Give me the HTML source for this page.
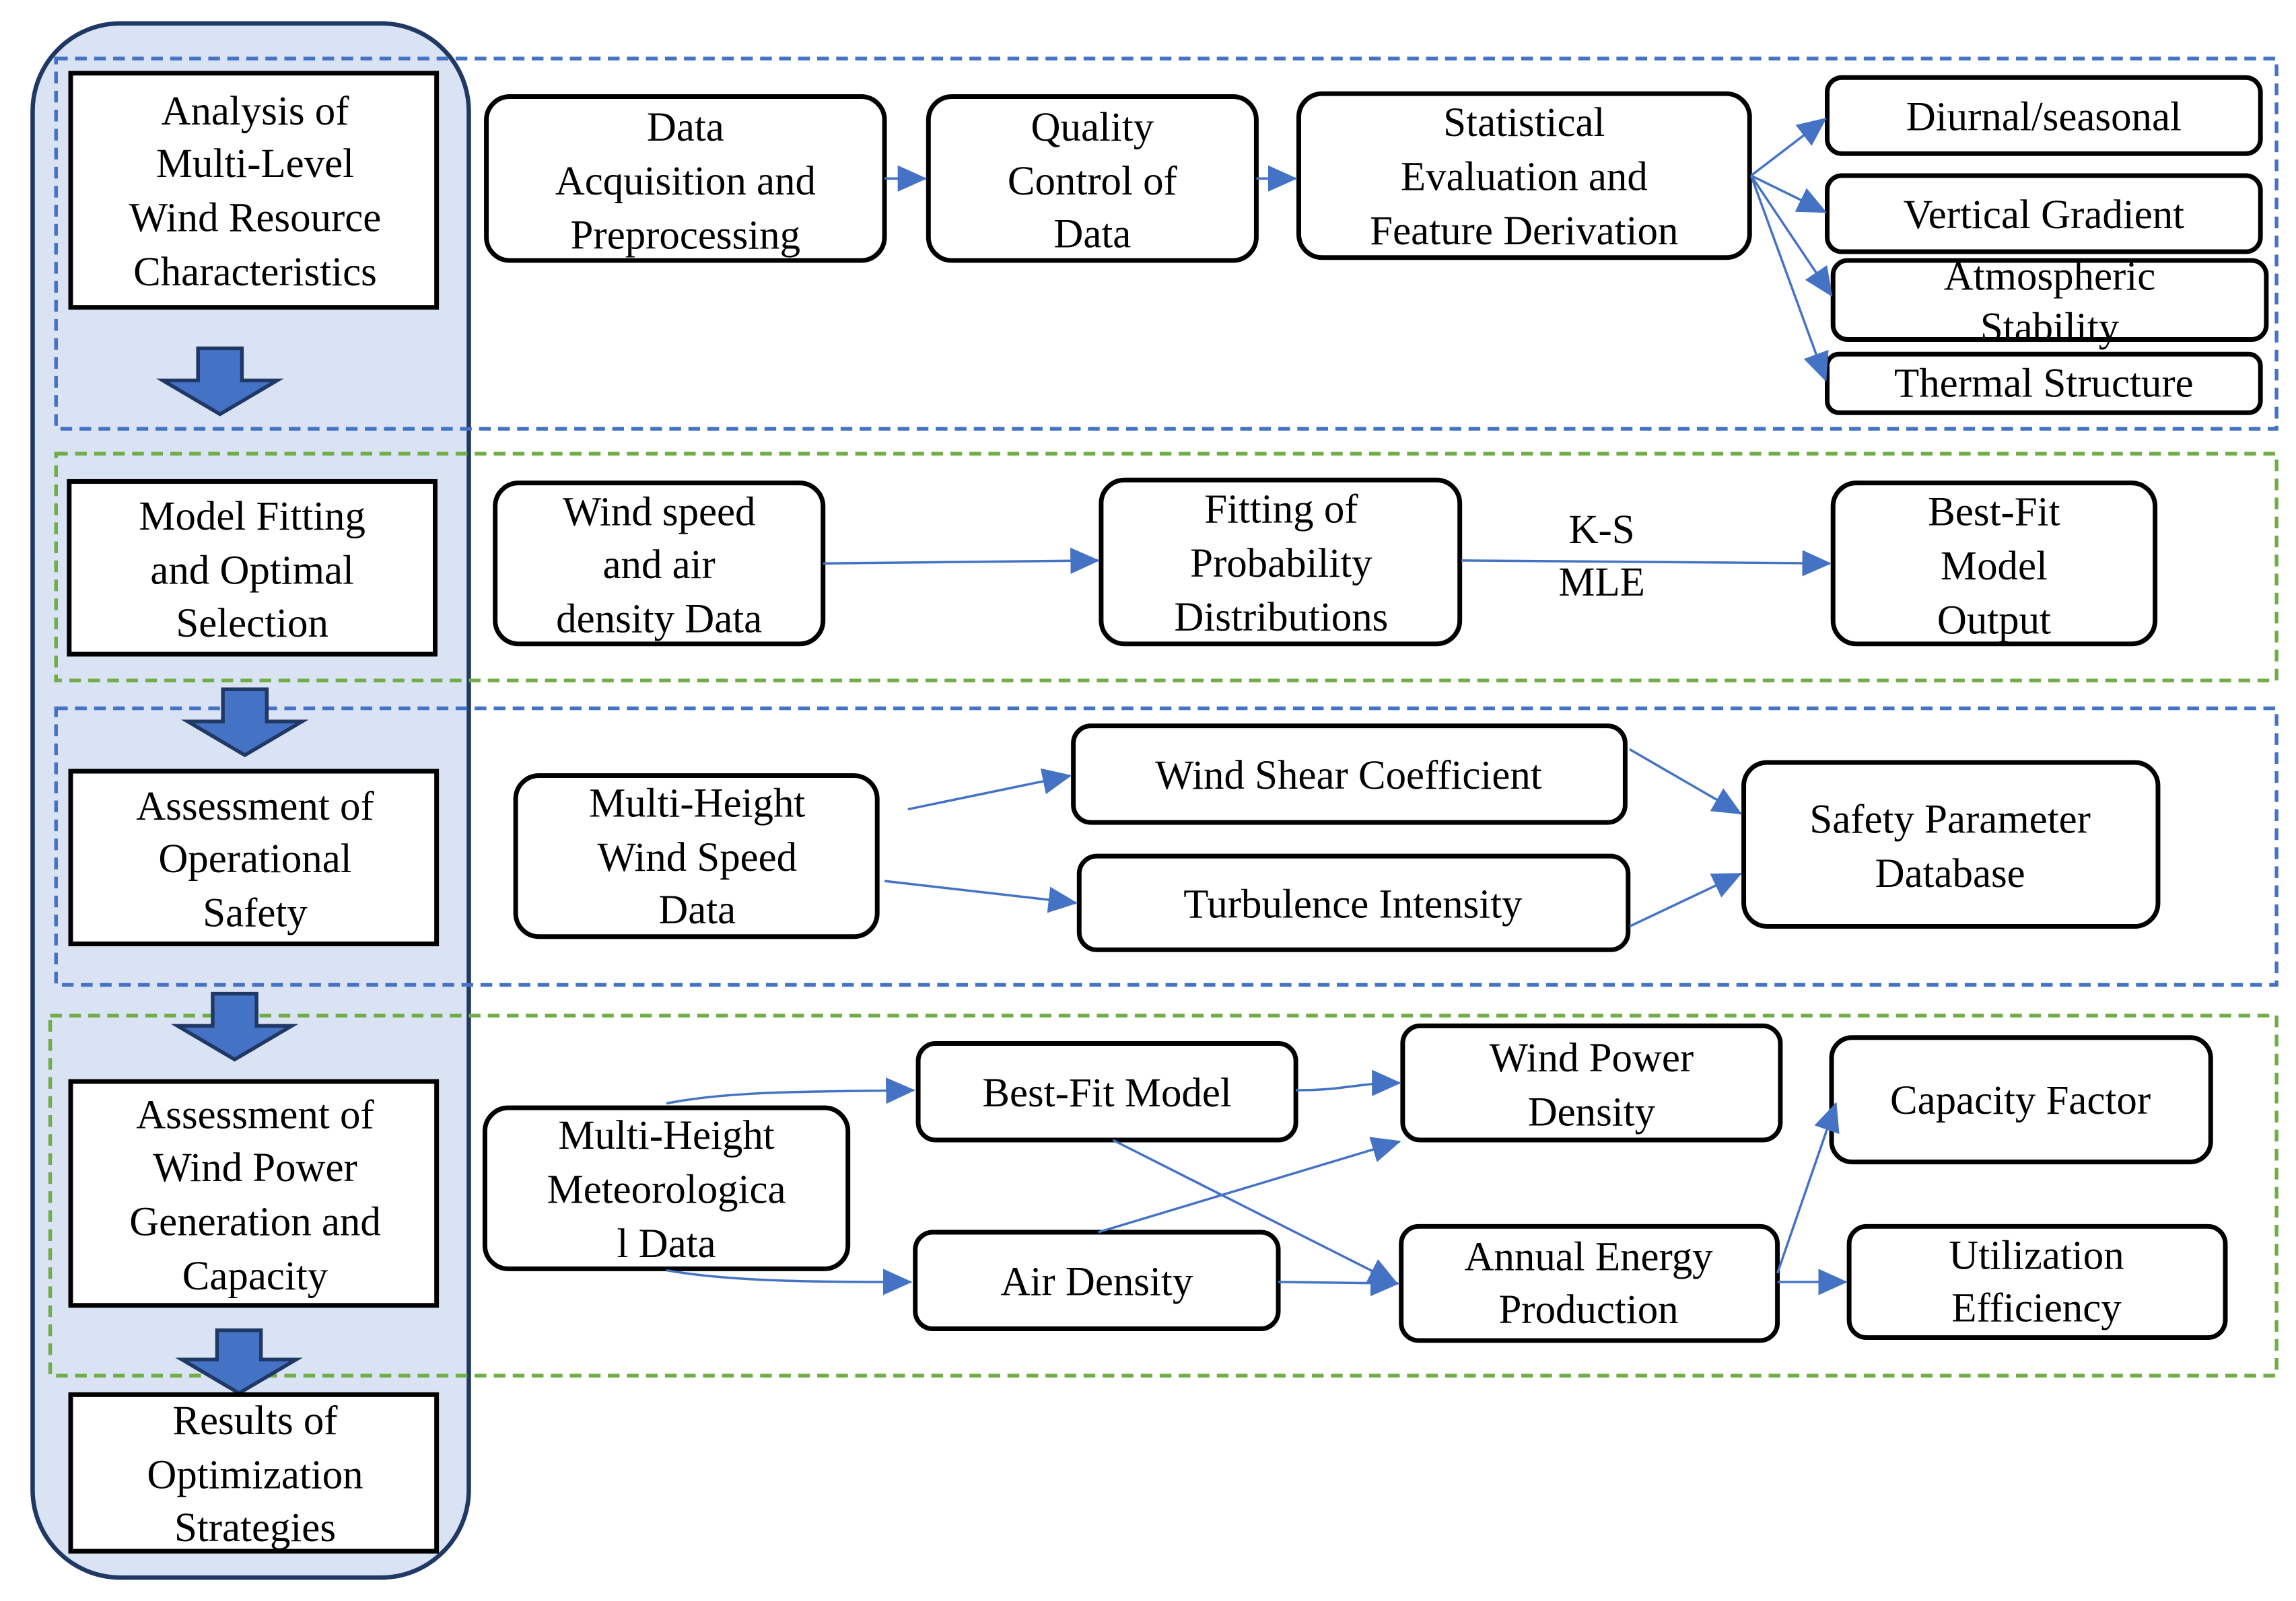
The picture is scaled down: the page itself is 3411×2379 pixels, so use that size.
<!DOCTYPE html>
<html><head><meta charset="utf-8"><style>
html,body{margin:0;padding:0;background:#fff;}
svg{display:block}
text{font-family:"Liberation Serif","Times New Roman",serif;font-size:28px;fill:#000;text-anchor:middle}
.b{fill:#fff;stroke:#000;stroke-width:3.2}
.c{stroke:#4472c4;stroke-width:1.6;fill:none}
</style></head><body>
<svg width="3411" height="2379" viewBox="0 0 1568 1094" xmlns="http://www.w3.org/2000/svg">
<defs>
<marker id="a" markerWidth="20" markerHeight="20" refX="19" refY="9" orient="auto" markerUnits="userSpaceOnUse" viewBox="0 0 20 18">
<path d="M0,0 L20,9 L0,18 z" fill="#4472c4"/></marker>
</defs>
<rect x="0" y="0" width="1568" height="1094" fill="#fff"/>
<rect x="22" y="16" width="298" height="1062" rx="60" fill="#dae3f3" stroke="#1f3864" stroke-width="3"/>
<g fill="none" stroke-width="2.5" stroke-dasharray="8,5">
<rect x="38" y="40" width="1517" height="253" stroke="#4472c4"/>
<rect x="38" y="310" width="1517" height="155" stroke="#70ad47"/>
<rect x="38" y="484" width="1517" height="189" stroke="#4472c4"/>
<rect x="34" y="694" width="1521" height="246" stroke="#70ad47"/>
</g>
<g fill="#4472c4" stroke="#1f3864" stroke-width="2.5">
<path d="M135,238 h30 v22 h24 l-39,23 l-39,-23 h24 z"/>
<path d="M152,471 h30 v22 h24 l-39,23 l-39,-23 h24 z"/>
<path d="M145,679 h30 v22 h24 l-39,23 l-39,-23 h24 z"/>
<path d="M148,909 h30 v20 h24 l-39,23 l-39,-23 h24 z"/>
</g>
<g transform="scale(1,1)">
<rect class="b" x="48" y="50" width="250" height="160"/>
<text x="174" y="85">Analysis of</text><text x="174" y="121">Multi-Level</text><text x="174" y="158">Wind Resource</text><text x="174" y="195">Characteristics</text>
<rect class="b" x="47" y="329" width="250" height="118"/>
<text x="172" y="362">Model Fitting</text><text x="172" y="399">and Optimal</text><text x="172" y="435">Selection</text>
<rect class="b" x="48" y="527" width="250" height="118"/>
<text x="174" y="560">Assessment of</text><text x="174" y="596">Operational</text><text x="174" y="633">Safety</text>
<rect class="b" x="48" y="739" width="250" height="153"/>
<text x="174" y="771">Assessment of</text><text x="174" y="807">Wind Power</text><text x="174" y="844">Generation and</text><text x="174" y="881">Capacity</text>
<rect class="b" x="48" y="953" width="250" height="107"/>
<text x="174" y="980">Results of</text><text x="174" y="1017">Optimization</text><text x="174" y="1053">Strategies</text>
</g>
<rect class="b" x="332" y="66" width="272" height="112" rx="16"/>
<text x="468" y="96">Data</text><text x="468" y="133">Acquisition and</text><text x="468" y="170">Preprocessing</text>
<rect class="b" x="634" y="66" width="224" height="112" rx="16"/>
<text x="746" y="96">Quality</text><text x="746" y="133">Control of</text><text x="746" y="169">Data</text>
<rect class="b" x="887" y="64" width="308" height="112" rx="16"/>
<text x="1041" y="93">Statistical</text><text x="1041" y="130">Evaluation and</text><text x="1041" y="167">Feature Derivation</text>
<rect class="b" x="1248" y="53" width="296" height="52" rx="10"/>
<text x="1396" y="89">Diurnal/seasonal</text>
<rect class="b" x="1248" y="120" width="296" height="52" rx="10"/>
<text x="1396" y="156">Vertical Gradient</text>
<rect class="b" x="1252" y="178" width="296" height="54" rx="10"/>
<text x="1400" y="198">Atmospheric</text><text x="1400" y="233">Stability</text>
<rect class="b" x="1248" y="242" width="296" height="40" rx="8"/>
<text x="1396" y="271">Thermal Structure</text>
<line class="c" x1="604" y1="122" x2="632" y2="122" marker-end="url(#a)"/>
<line class="c" x1="858" y1="122" x2="885" y2="122" marker-end="url(#a)"/>
<line class="c" x1="1196" y1="120" x2="1247" y2="81" marker-end="url(#a)"/>
<line class="c" x1="1196" y1="120" x2="1247" y2="145" marker-end="url(#a)"/>
<line class="c" x1="1196" y1="120" x2="1251" y2="202" marker-end="url(#a)"/>
<line class="c" x1="1196" y1="120" x2="1247" y2="260" marker-end="url(#a)"/>
<rect class="b" x="338" y="330" width="224" height="110" rx="16"/>
<text x="450" y="359">Wind speed</text><text x="450" y="395">and air</text><text x="450" y="432">density Data</text>
<rect class="b" x="752" y="328" width="245" height="112" rx="16"/>
<text x="875" y="357">Fitting of</text><text x="875" y="394">Probability</text><text x="875" y="431">Distributions</text>
<rect class="b" x="1252" y="330" width="220" height="110" rx="16"/>
<text x="1362" y="359">Best-Fit</text><text x="1362" y="396">Model</text><text x="1362" y="433">Output</text>
<line class="c" x1="562" y1="385" x2="750" y2="383" marker-end="url(#a)"/>
<line class="c" x1="998" y1="383" x2="1250" y2="385" marker-end="url(#a)"/>
<text x="1094" y="371">K-S</text><text x="1094" y="407">MLE</text>
<rect class="b" x="352" y="530" width="247" height="110" rx="16"/>
<text x="476" y="558">Multi-Height</text><text x="476" y="595">Wind Speed</text><text x="476" y="631">Data</text>
<rect class="b" x="733" y="496" width="377" height="66" rx="12"/>
<text x="921" y="539">Wind Shear Coefficient</text>
<rect class="b" x="737" y="585" width="375" height="64" rx="12"/>
<text x="924" y="627">Turbulence Intensity</text>
<rect class="b" x="1191" y="521" width="283" height="112" rx="16"/>
<text x="1332" y="569">Safety Parameter</text><text x="1332" y="606">Database</text>
<line class="c" x1="620" y1="553" x2="731" y2="530" marker-end="url(#a)"/>
<line class="c" x1="604" y1="602" x2="735" y2="617" marker-end="url(#a)"/>
<line class="c" x1="1113" y1="512" x2="1189" y2="556" marker-end="url(#a)"/>
<line class="c" x1="1113" y1="633" x2="1189" y2="597" marker-end="url(#a)"/>
<rect class="b" x="331" y="757" width="248" height="110" rx="16"/>
<text x="455" y="785">Multi-Height</text><text x="455" y="822">Meteorologica</text><text x="455" y="859">l Data</text>
<rect class="b" x="627" y="713" width="258" height="66" rx="12"/>
<text x="756" y="756">Best-Fit Model</text>
<rect class="b" x="625" y="842" width="248" height="66" rx="12"/>
<text x="749" y="885">Air Density</text>
<rect class="b" x="958" y="701" width="258" height="78" rx="12"/>
<text x="1087" y="732">Wind Power</text><text x="1087" y="769">Density</text>
<rect class="b" x="957" y="838" width="257" height="78" rx="12"/>
<text x="1085" y="868">Annual Energy</text><text x="1085" y="904">Production</text>
<rect class="b" x="1251" y="709" width="259" height="85" rx="14"/>
<text x="1380" y="761">Capacity Factor</text>
<rect class="b" x="1263" y="838" width="257" height="76" rx="12"/>
<text x="1391" y="867">Utilization</text><text x="1391" y="903">Efficiency</text>
<path class="c" d="M455,754 C500,745 560,746 624,745" marker-end="url(#a)"/>
<path class="c" d="M455,868 C500,876 560,876 622,876" marker-end="url(#a)"/>
<path class="c" d="M885,745 C920,745 925,740 956,740" marker-end="url(#a)"/>
<line class="c" x1="750" y1="842" x2="956" y2="780" marker-end="url(#a)"/>
<line class="c" x1="760" y1="779" x2="954" y2="877" marker-end="url(#a)"/>
<line class="c" x1="873" y1="876" x2="955" y2="877" marker-end="url(#a)"/>
<line class="c" x1="1214" y1="876" x2="1261" y2="876" marker-end="url(#a)"/>
<line class="c" x1="1214" y1="870" x2="1254" y2="754" marker-end="url(#a)"/>
</svg>
</body></html>
